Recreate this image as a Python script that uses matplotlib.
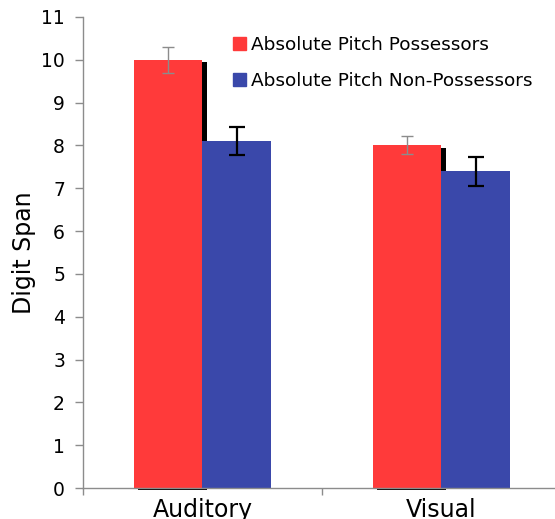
import matplotlib
matplotlib.use("Agg")
from matplotlib import pyplot as plt
from matplotlib import patheffects as pe
from matplotlib.patches import Patch
import numpy as np

categories = ["Auditory", "Visual"]
series = ["Absolute Pitch Possessors", "Absolute Pitch Non-Possessors"]
possessors = [10.0, 8.0]
possessors_err = [0.31, 0.21]
non_possessors = [8.1, 7.4]
non_possessors_err = [0.32, 0.34]

red = "#ff3a3a"
blue = "#3a48aa"
grey = "#8c8c8c"

fig = plt.figure(figsize=(5.55, 5.19), dpi=100)
ax = fig.add_axes([83 / 555, 1 - 488 / 519, 478 / 555, 471 / 519])

x = np.arange(len(categories))
w = 0.286

# drop shadow only on the red bars, blue bars sit on top of it
shadow = [pe.SimplePatchShadow(offset=(2.9, -1.6), shadow_rgbFace="black", alpha=1.0), pe.Normal()]
ax.bar(x - w / 2, possessors, w, color=red, clip_on=False, path_effects=shadow, zorder=2)
ax.bar(x + w / 2, non_possessors, w, color=blue, zorder=3)
ax.errorbar(x - w / 2, possessors, yerr=possessors_err, fmt="none", ecolor=grey,
            elinewidth=1, capsize=4.5, capthick=1, zorder=4)
ax.errorbar(x + w / 2, non_possessors, yerr=non_possessors_err, fmt="none", ecolor="black",
            elinewidth=1.6, capsize=5.5, capthick=1.6, zorder=4)

ax.set_xlim(-0.5, 1.5)
ax.set_ylim(0, 11)
ax.set_yticks(range(0, 12))
ax.set_xticks(x)
ax.set_xticklabels(categories, fontsize=17)
ax.set_xticks([-0.5, 0.5, 1.5], minor=True)
ax.tick_params(axis="x", which="major", length=0, pad=7)
ax.tick_params(axis="x", which="minor", length=5, color=grey, width=1)
ax.tick_params(axis="y", length=6, color=grey, width=1, labelsize=13.5, pad=7)

for s in ["top", "right"]:
    ax.spines[s].set_visible(False)
for s in ["left", "bottom"]:
    ax.spines[s].set_color(grey)
    ax.spines[s].set_linewidth(1)
ax.spines["bottom"].set_zorder(5)

ax.set_ylabel("Digit Span", fontsize=17, labelpad=4)

handles = [Patch(color=red), Patch(color=blue)]
ax.legend(handles, series, loc="upper left", bbox_to_anchor=(0.28, 0.995), frameon=False,
          fontsize=13.3, handlelength=0.7, handleheight=0.7, handletextpad=0.25,
          labelspacing=0.95)

fig.savefig("out.png", dpi=100)
